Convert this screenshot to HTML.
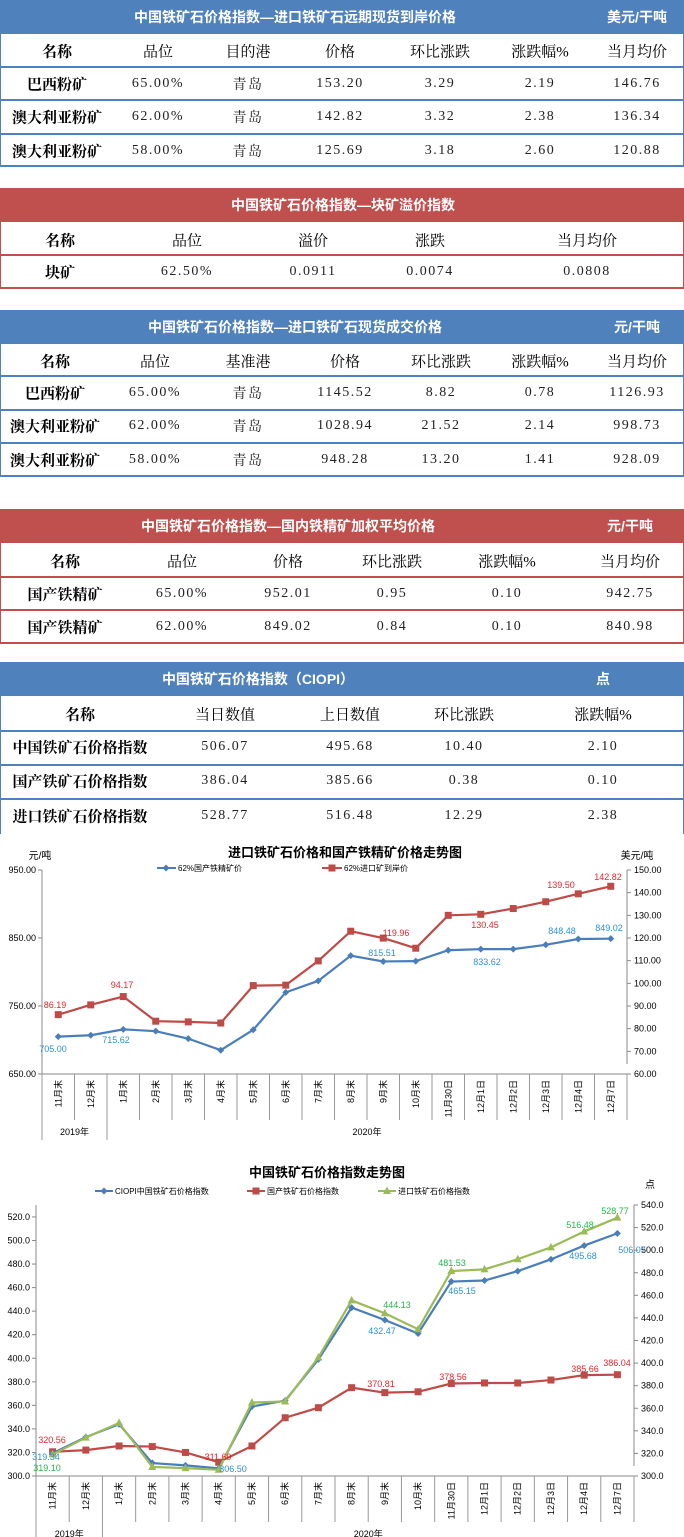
<!DOCTYPE html>
<html><head><meta charset="utf-8">
<style>
body{margin:0;width:684px;height:1537px;position:relative;background:#fff;overflow:hidden;font-family:"Liberation Serif","Noto Serif CJK SC",serif;}
.a{position:absolute;white-space:nowrap;}
.band{position:absolute;left:0;width:684px;height:34px;}
.bt{position:absolute;color:#fff;font-family:"Liberation Sans","Noto Sans CJK SC",sans-serif;font-weight:bold;font-size:14px;line-height:34px;transform:translateX(-50%);white-space:nowrap;}
.ln{position:absolute;left:0;width:684px;height:2px;}
.vl{position:absolute;width:1px;}
.c{position:absolute;transform:translate(-50%,-50%);white-space:nowrap;font-size:15px;color:#000;}
.b{font-weight:bold;font-family:"Liberation Serif","Noto Serif CJK SC",serif;}
.n{font-family:"Liberation Serif","Noto Serif CJK SC",serif;font-size:14px;letter-spacing:1.5px;color:#222;}
</style></head><body>
<div id="root"></div>
<svg id="ch1" class="a" style="left:0;top:835px" width="684" height="310"></svg>
<svg id="ch2" class="a" style="left:0;top:1160px" width="684" height="377"></svg>
<script>
var root=document.getElementById('root');
function el(h){root.insertAdjacentHTML('beforeend',h);}
function table(o){
 var col=o.col;
 el('<div class="band" style="top:'+o.top+'px;background:'+col+'"></div>');
 el('<div class="bt" style="top:'+o.top+'px;left:'+o.tx+'px">'+o.title+'</div>');
 if(o.unit) el('<div class="bt" style="top:'+o.top+'px;left:'+o.ux+'px">'+o.unit+'</div>');
 var bot=o.lines[o.lines.length-1];
 var vb=o.nobottom?o.lines[o.lines.length-1]+35:bot;
 el('<div class="vl" style="left:0;top:'+(o.top+34)+'px;height:'+(vb-o.top-34)+'px;background:'+col+'"></div>');
 el('<div class="vl" style="left:683px;top:'+(o.top+34)+'px;height:'+(vb-o.top-34)+'px;background:'+col+'"></div>');
 o.lines.forEach(function(y){el('<div class="ln" style="top:'+(y-1)+'px;background:'+col+'"></div>');});
 o.rows.forEach(function(r,ri){
  var y=o.ys[ri];
  r.forEach(function(t,ci){
   var cls='c';
   if(ri>0&&ci==0) cls+=' b';
   else if(ri==0&&ci==0) cls+=' b';
   else if(ri>0) cls+=' n';
   el('<div class="'+cls+'" style="left:'+o.xs[ci]+'px;top:'+y+'px">'+t+'</div>');
  });
 });
}
var B='#4f81bd',R='#c0504d';
table({top:0,col:B,title:'中国铁矿石价格指数—进口铁矿石远期现货到岸价格',tx:295,unit:'美元/干吨',ux:637,
 lines:[67,100,134,166],ys:[51,84,117,151],xs:[57,158,248,340,440,540,637],
 rows:[['名称','品位','目的港','价格','环比涨跌','涨跌幅%','当月均价'],
 ['巴西粉矿','65.00%','青岛','153.20','3.29','2.19','146.76'],
 ['澳大利亚粉矿','62.00%','青岛','142.82','3.32','2.38','136.34'],
 ['澳大利亚粉矿','58.00%','青岛','125.69','3.18','2.60','120.88']]});
table({top:188,col:R,title:'中国铁矿石价格指数—块矿溢价指数',tx:343,
 lines:[255,288],ys:[240,272],xs:[60,187,313,430,587],
 rows:[['名称','品位','溢价','涨跌','当月均价'],['块矿','62.50%','0.0911','0.0074','0.0808']]});
table({top:310,col:B,title:'中国铁矿石价格指数—进口铁矿石现货成交价格',tx:295,unit:'元/干吨',ux:637,
 lines:[376,410,443,476],ys:[361,393,426,460],xs:[55,155,248,345,441,540,637],
 rows:[['名称','品位','基准港','价格','环比涨跌','涨跌幅%','当月均价'],
 ['巴西粉矿','65.00%','青岛','1145.52','8.82','0.78','1126.93'],
 ['澳大利亚粉矿','62.00%','青岛','1028.94','21.52','2.14','998.73'],
 ['澳大利亚粉矿','58.00%','青岛','948.28','13.20','1.41','928.09']]});
table({top:509,col:R,title:'中国铁矿石价格指数—国内铁精矿加权平均价格',tx:288,unit:'元/干吨',ux:630,
 lines:[577,610,643],ys:[561,594,627],xs:[65,182,288,392,507,630],
 rows:[['名称','品位','价格','环比涨跌','涨跌幅%','当月均价'],
 ['国产铁精矿','65.00%','952.01','0.95','0.10','942.75'],
 ['国产铁精矿','62.00%','849.02','0.84','0.10','840.98']]});
table({top:662,col:B,title:'中国铁矿石价格指数（CIOPI）',tx:258,unit:'点',ux:603,nobottom:true,
 lines:[731,765,799],ys:[714,747,781,816],xs:[80,225,350,464,603],
 rows:[['名称','当日数值','上日数值','环比涨跌','涨跌幅%'],
 ['中国铁矿石价格指数','506.07','495.68','10.40','2.10'],
 ['国产铁矿石价格指数','386.04','385.66','0.38','0.10'],
 ['进口铁矿石价格指数','528.77','516.48','12.29','2.38']]});
</script>
<script>
var cats=['11月末','12月末','1月末','2月末','3月末','4月末','5月末','6月末','7月末','8月末','9月末','10月末','11月30日','12月1日','12月2日','12月3日','12月4日','12月7日'];
var F='font-family="Liberation Sans,Noto Sans CJK SC,sans-serif"';
function mk(svg,cfg){
 var s='',x0=cfg.x0,x1=cfg.x1,ya=cfg.ya,n=18,w=(x1-x0)/n;
 function cx(i){return x0+w/2+i*w;}
 s+='<text x="'+cfg.tx+'" y="'+cfg.ty+'" font-size="13" font-weight="bold" text-anchor="middle" '+F+'>'+cfg.title+'</text>';
 s+=cfg.extra||'';
 s+='<line x1="'+x0+'" y1="'+cfg.atop+'" x2="'+x0+'" y2="'+cfg.ybot+'" stroke="#888"/>';
 s+='<line x1="'+x1+'" y1="'+cfg.atop+'" x2="'+x1+'" y2="'+(cfg.ya-10)+'" stroke="#888"/>';
 s+='<line x1="'+x0+'" y1="'+ya+'" x2="'+x1+'" y2="'+ya+'" stroke="#888"/>';
 cfg.lt.forEach(function(t){s+='<line x1="'+(x0-4)+'" y1="'+t[1]+'" x2="'+x0+'" y2="'+t[1]+'" stroke="#888"/><text x="'+(x0-6)+'" y="'+(t[1]+3)+'" font-size="9" text-anchor="end" '+F+'>'+t[0]+'</text>';});
 cfg.rt.forEach(function(t){s+='<line x1="'+x1+'" y1="'+t[1]+'" x2="'+(x1+4)+'" y2="'+t[1]+'" stroke="#888"/><text x="'+(x1+7)+'" y="'+(t[1]+3)+'" font-size="9" '+F+'>'+t[0]+'</text>';});
 for(var i=0;i<=n;i++){var x=x0+i*w;var yb=(i==0||i==2)?cfg.ybot:ya+46;s+='<line x1="'+x+'" y1="'+ya+'" x2="'+x+'" y2="'+yb+'" stroke="#999"/>';}
 cats.forEach(function(c,i){s+='<text transform="translate('+(cx(i)+3)+','+(ya+6)+') rotate(-90)" font-size="9" text-anchor="end" '+F+'>'+c+'</text>';});
 s+='<text x="'+(x0+w)+'" y="'+(ya+61)+'" font-size="9" text-anchor="middle" '+F+'>2019年</text>';
 s+='<text x="'+((x0+2*w+x1)/2)+'" y="'+(ya+61)+'" font-size="9" text-anchor="middle" '+F+'>2020年</text>';
 cfg.series.forEach(function(se){
  var pts=se.d.map(function(v,i){return [cx(i),se.f(v)];});
  s+='<polyline points="'+pts.map(function(p){return p.join(',')}).join(' ')+'" fill="none" stroke="'+se.c+'" stroke-width="2.2"/>';
  pts.forEach(function(p){
   if(se.m=='s')s+='<rect x="'+(p[0]-3.5)+'" y="'+(p[1]-3.5)+'" width="7" height="7" fill="'+se.c+'"/>';
   else if(se.m=='t')s+='<polygon points="'+p[0]+','+(p[1]-4.5)+' '+(p[0]-4)+','+(p[1]+3)+' '+(p[0]+4)+','+(p[1]+3)+'" fill="'+se.c+'"/>';
   else s+='<polygon points="'+p[0]+','+(p[1]-3.5)+' '+(p[0]+3.5)+','+p[1]+' '+p[0]+','+(p[1]+3.5)+' '+(p[0]-3.5)+','+p[1]+'" fill="'+se.c+'"/>';
  });
 });
 cfg.labels.forEach(function(l){s+='<text x="'+l[1]+'" y="'+(l[2]+3)+'" font-size="9" fill="'+l[3]+'" text-anchor="middle" '+F+'>'+l[0]+'</text>';});
 document.getElementById(svg).innerHTML=s;
}
var o1=835;
function L1(v){return 1074-(v-650)/300*204-o1;}
function R1(v){return 1074-(v-60)/90*204-o1;}
var leg1='<text x="40" y="24" font-size="10" text-anchor="middle" '+F+'>元/吨</text><text x="637" y="24" font-size="10" text-anchor="middle" '+F+'>美元/吨</text>'+
'<line x1="157" y1="33" x2="176" y2="33" stroke="#4a7ebb" stroke-width="2"/><polygon points="166,29.5 169.5,33 166,36.5 162.5,33" fill="#4a7ebb"/><text x="178" y="36" font-size="8" '+F+'>62%国产铁精矿价</text>'+
'<line x1="322" y1="33" x2="342" y2="33" stroke="#be4b48" stroke-width="2"/><rect x="328.5" y="29.5" width="7" height="7" fill="#be4b48"/><text x="344" y="36" font-size="8" '+F+'>62%进口矿到岸价</text>';
mk('ch1',{x0:42,x1:627,ya:1074-o1,ybot:1140-o1,atop:870-o1,tx:345,ty:22,title:'进口铁矿石价格和国产铁精矿价格走势图',extra:leg1,
 lt:[['950.00',L1(950)],['850.00',L1(850)],['750.00',L1(750)],['650.00',L1(650)]],
 rt:[150,140,130,120,110,100,90,80,70,60].map(function(v){return [v.toFixed(2),R1(v)];}),
 series:[
 {c:'#4a7ebb',m:'d',f:L1,d:[705,707,715.62,713,702,685,715,770,787,824,815.51,816,832,833.62,833.6,840,848.48,849.02]},
 {c:'#be4b48',m:'s',f:R1,d:[86.19,90.5,94.17,83.3,83,82.5,99,99.2,109.9,123,119.96,115.5,130,130.45,133,136,139.5,142.82]}],
 labels:[['86.19',55,1005-o1,'#e8262c'],['94.17',122,985-o1,'#e8262c'],['119.96',396,933-o1,'#e8262c'],['130.45',485,925-o1,'#e8262c'],['139.50',561,885-o1,'#e8262c'],['142.82',608,877-o1,'#e8262c'],
 ['705.00',53,1049-o1,'#2f8fd8'],['715.62',116,1040-o1,'#2f8fd8'],['815.51',382,953-o1,'#2f8fd8'],['833.62',487,962-o1,'#2f8fd8'],['848.48',562,931-o1,'#2f8fd8'],['849.02',609,928-o1,'#2f8fd8']]});
var o2=1160;
function L2(v){return 1476-(v-300)/20*23.55-o2;}
function R2(v){return 1476-(v-300)/240*271-o2;}
var leg2='<text x="650" y="28" font-size="10" text-anchor="middle" '+F+'>点</text>'+
'<line x1="95" y1="31" x2="113" y2="31" stroke="#4a7ebb" stroke-width="2"/><polygon points="104,27.5 107.5,31 104,34.5 100.5,31" fill="#4a7ebb"/><text x="115" y="34" font-size="8" '+F+'>CIOPI中国铁矿石价格指数</text>'+
'<line x1="247" y1="31" x2="265" y2="31" stroke="#be4b48" stroke-width="2"/><rect x="252.5" y="27.5" width="7" height="7" fill="#be4b48"/><text x="267" y="34" font-size="8" '+F+'>国产铁矿石价格指数</text>'+
'<line x1="378" y1="31" x2="396" y2="31" stroke="#9bbb59" stroke-width="2"/><polygon points="387,26.5 383,34 391,34" fill="#9bbb59"/><text x="398" y="34" font-size="8" '+F+'>进口铁矿石价格指数</text>';
mk('ch2',{x0:36,x1:634,ya:1476-o2,ybot:1537-o2,atop:1205-o2,tx:327,ty:17,title:'中国铁矿石价格指数走势图',extra:leg2,
 lt:[520,500,480,460,440,420,400,380,360,340,320,300].map(function(v){return [v.toFixed(1),L2(v)];}),
 rt:[540,520,500,480,460,440,420,400,380,360,340,320,300].map(function(v){return [v.toFixed(1),R2(v)];}),
 series:[
 {c:'#be4b48',m:'s',f:L2,d:[320.56,322,325.5,325,320,311.69,325.5,349.5,358,375,370.81,371.5,378.56,379,379,381.5,385.66,386.04]},
 {c:'#4a7ebb',m:'d',f:L2,d:[319.34,333,344,311,309,306.5,359,364,399,443,432.47,421,465.15,466,474,484,495.68,506.07]},
 {c:'#9bbb59',m:'t',f:R2,d:[319.10,334,347,308,307,305.5,365,366,405,455.5,444.13,430,481.53,483,492,502.5,516.48,528.77]}],
 labels:[['320.56',52,1440-o2,'#e8262c'],['311.69',218,1457-o2,'#e8262c'],['370.81',381,1384-o2,'#e8262c'],['378.56',453,1377-o2,'#e8262c'],['385.66',585,1369-o2,'#e8262c'],['386.04',617,1363-o2,'#e8262c'],
 ['319.34',46,1457-o2,'#2f8fd8'],['306.50',233,1469-o2,'#2f8fd8'],['432.47',382,1331-o2,'#2f8fd8'],['465.15',462,1291-o2,'#2f8fd8'],['495.68',583,1256-o2,'#2f8fd8'],['506.07',632,1250-o2,'#2f8fd8'],
 ['319.10',47,1468-o2,'#22b84a'],['444.13',397,1305-o2,'#22b84a'],['481.53',452,1263-o2,'#22b84a'],['516.48',580,1225-o2,'#22b84a'],['528.77',615,1211-o2,'#22b84a']]});
</script>
</body></html>
